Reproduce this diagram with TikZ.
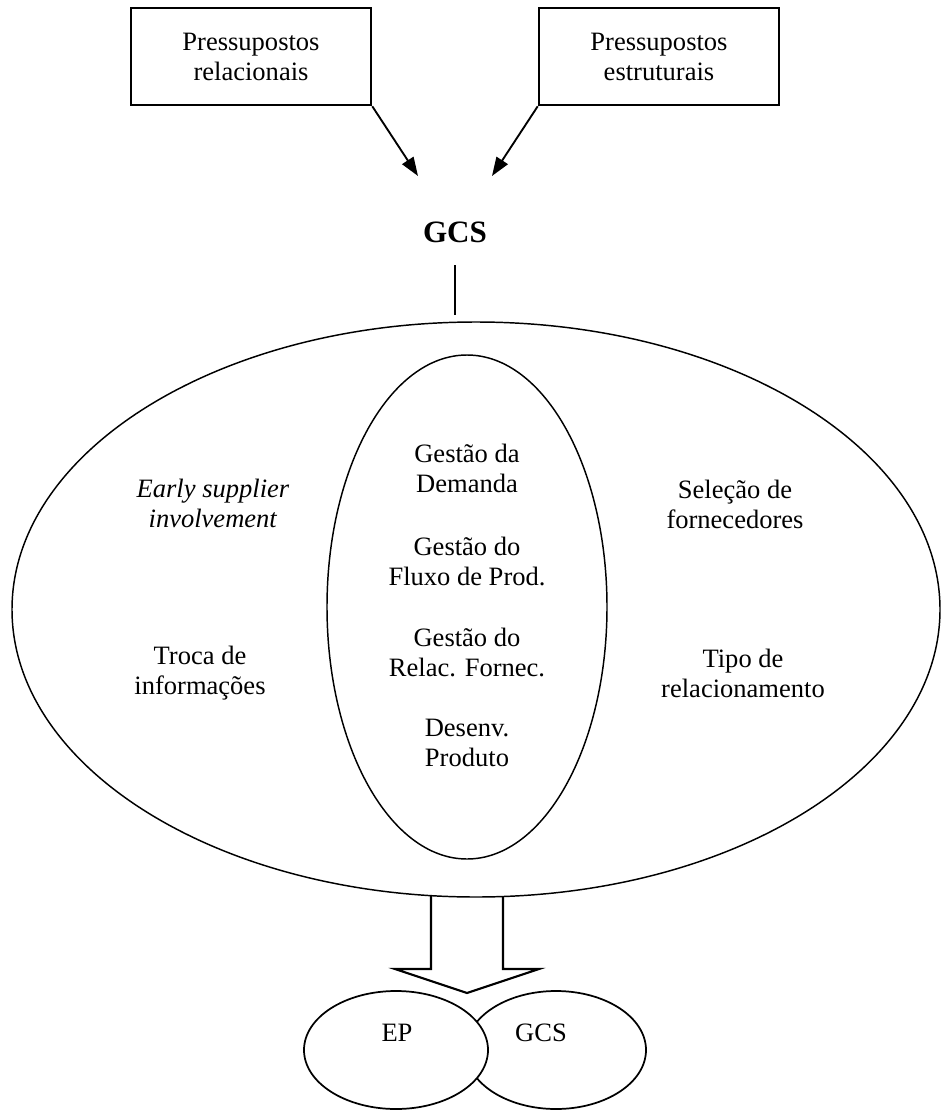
\documentclass[tikz,border=0pt]{standalone}
\usepackage{fontspec}
\setmainfont{Liberation Serif}
\usetikzlibrary{arrows.meta,shapes.geometric}
\begin{document}
\begin{tikzpicture}[x=0.75pt,y=-0.75pt,
  txt/.style={align=center,font=\fontsize{19.9}{22.5}\selectfont,inner sep=0pt},
  premise/.style={draw,line width=1.9pt,minimum width=180pt,minimum height=72.75pt,txt},
  oval/.style={draw,ellipse,line width=1.1pt,inner sep=0pt},
  smalloval/.style={draw,ellipse,line width=1.3pt,inner sep=0pt,minimum height=88.5pt},
  link/.style={line width=1.4pt,-{Triangle[length=14pt,width=10pt]}},
]
\useasboundingbox (0,0) rectangle (940,1110);

% premises feeding supply chain management
\node[premise] (rel) at (251,56.5) {Pressupostos\\relacionais};
\node[premise] (est) at (659,56.5) {Pressupostos\\estruturais};
\coordinate (tipL) at (418,176);
\coordinate (tipR) at (492,176);
\draw[link] (rel.south east) -- (tipL);
\draw[link] (est.south west) -- (tipR);

\node[inner sep=0pt,font=\fontsize{23.3}{26}\selectfont\bfseries] (gcs) at (455,232) {GCS};
\coordinate (tickA) at (455,265);
\coordinate (tickB) at (455,315);
\draw[line width=1.3pt] (tickA) -- (tickB);

% outer and inner ovals
\node[oval,minimum width=696pt,minimum height=431.25pt] (outer) at (476,609.5) {};
\node[oval,minimum width=210pt,minimum height=378pt] (inner) at (467,607) {};

\node[txt] (early) at (213,503) {\textit{Early supplier}\\\textit{involvement}};
\node[txt] (sel) at (735,504) {Seleção de\\fornecedores};
\node[txt] (troca) at (200,673) {Troca de\\informações};
\node[txt] (tipo) at (743,673) {Tipo de\\relacionamento};

\node[txt] (g1) at (467,468) {Gestão da\\Demanda};
\node[txt] (g2) at (467,561) {Gestão do\\Fluxo de Prod.};
\node[txt] (g3) at (467,652) {Gestão do\\Relac. Fornec.};
\node[txt] (g4) at (467,743) {Desenv.\\Produto};

% block arrow down to the result
\draw[line width=1.6pt,line join=miter]
  (431,896) -- (431,969) -- (395,969) -- (467,993) -- (539,969) -- (503,969) -- (503,896);

% overlapping result ovals
\node[smalloval,minimum width=135pt] (gcsb) at (556,1050) {};
\node[smalloval,minimum width=138pt,fill=white] (ep) at (396,1050) {};
\node[txt] (eptxt) at (397,1033) {EP};
\node[txt] (gcstxt) at (541,1033) {GCS};
\end{tikzpicture}
\end{document}
